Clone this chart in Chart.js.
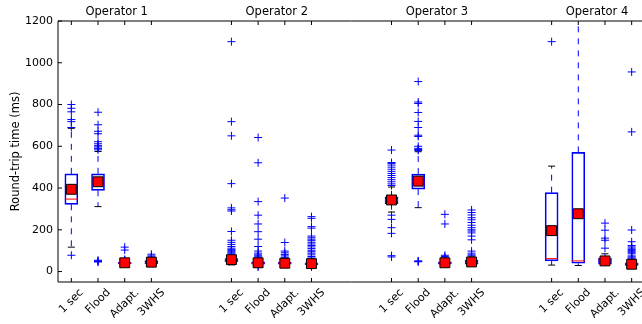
<!DOCTYPE html>
<html><head><meta charset="utf-8">
<script src="https://cdn.jsdelivr.net/npm/chart.js@4"></script>
<style>
html,body{margin:0;padding:0;overflow:hidden;background:#fff;width:642px;height:324px}
#wrap{width:646px;height:324px;position:relative}
canvas{display:block}
</style>
</head><body><div id="wrap"><canvas id="c" width="646" height="324"></canvas></div>
<script>
const operators = ["Operator 1", "Operator 2", "Operator 3", "Operator 4"];
const categories = ["1 sec", "Flood", "Adapt.", "3WHS"];
const positions = [1, 2, 3, 4, 7, 8, 9, 10, 13, 14, 15, 16, 19, 20, 21, 22];
const yTicks = [0, 200, 400, 600, 800, 1000, 1200];
const yLabel = "Round-trip time (ms)";

const whiskerLow  = [117, 311, 33, 33,  32, 28, 30, 28,  285, 306, 33, 33,  31, 29, 32, 27];
const q1          = [322, 389, 37, 37,  47, 35, 35, 33,  325, 395, 35, 35,  51, 40, 35, 30];
const median      = [347, 426, 40, 42,  52, 40, 40, 37,  343, 429, 42, 43,  62, 51, 56, 37];
const q3          = [468, 468, 44, 52,  62, 47, 46, 42,  358, 467, 47, 55,  378, 571, 64, 42];
const whiskerHigh = [686, 575, 50, 65,  75, 58, 55, 50,  405, 574, 52, 70,  505, 1400, 85, 50];
const means       = [394, 430, 42, 45,  57, 42, 40, 38,  343, 433, 42, 46,  196, 277, 51, 35];
const outliers = [
  [800, 782, 765, 728, 718, 690, 78],
  [763, 703, 672, 660, 622, 612, 603, 597, 590, 583, 54, 51, 48, 46],
  [117, 103, 58, 55, 53],
  [83, 75, 70],
  [1101, 718, 650, 421, 305, 296, 290, 192, 150, 140, 130, 120, 112, 105, 100, 95, 90, 85, 80],
  [642, 521, 335, 270, 228, 191, 155, 120, 98, 88, 80, 75, 70, 65, 62, 60, 25, 22],
  [352, 139, 98, 90, 82, 75, 68, 62, 58],
  [263, 255, 215, 208, 170, 162, 155, 148, 140, 132, 125, 118, 110, 102, 95, 88, 80, 72, 65, 58, 52, 25, 22],
  [582, 522, 518, 510, 500, 490, 480, 470, 460, 450, 440, 430, 420, 412, 270, 250, 210, 183, 76, 70],
  [910, 812, 805, 762, 719, 690, 653, 647, 600, 590, 585, 580, 51, 49, 47],
  [274, 228, 78, 72, 65, 60, 56],
  [295, 283, 271, 258, 248, 235, 222, 210, 200, 194, 185, 170, 152, 98, 88, 80, 75],
  [1101],
  [],
  [232, 198, 160, 150, 112],
  [956, 669, 199, 143, 125, 118, 112, 105, 100, 95, 90, 85, 75, 70, 65, 60, 55]
];

const boxData = positions.map((p, i) => ({x: p, y: [q1[i], q3[i]]}));
const whiskerData = positions.flatMap((p, i) => [
  {x: p, y: q3[i]}, {x: p, y: whiskerHigh[i]}, {x: p, y: null},
  {x: p, y: q1[i]}, {x: p, y: whiskerLow[i]}, {x: p, y: null}
]);
const capData = positions.flatMap((p, i) => [{x: p, y: whiskerLow[i]}, {x: p, y: whiskerHigh[i]}]);
const medianData = positions.map((p, i) => ({x: p, y: median[i]}));
const meanData = positions.map((p, i) => ({x: p, y: means[i]}));
const outlierData = positions.flatMap((p, i) => outliers[i].map(v => ({x: p, y: v})));

const FONT = '"DejaVu Sans", "Liberation Sans", sans-serif';
Chart.defaults.font.family = FONT;
Chart.defaults.font.size = 11;
Chart.defaults.color = '#000';

const decor = {
  id: 'decor',
  afterDraw(chart) {
    const {ctx, chartArea: a, scales: {x, y}} = chart;
    ctx.save();
    ctx.strokeStyle = '#000';
    ctx.lineWidth = 1;
    ctx.beginPath();
    ctx.moveTo(a.left, a.top); ctx.lineTo(a.right, a.top);
    ctx.moveTo(a.left, a.bottom); ctx.lineTo(a.right, a.bottom);
    ctx.moveTo(a.left, a.top); ctx.lineTo(a.left, a.bottom);
    ctx.moveTo(a.right, a.top); ctx.lineTo(a.right, a.bottom);
    yTicks.forEach(v => {
      const py = y.getPixelForValue(v);
      ctx.moveTo(a.left, py); ctx.lineTo(a.left + 4, py);
    });
    positions.forEach(p => {
      const px = x.getPixelForValue(p);
      ctx.moveTo(px, a.bottom); ctx.lineTo(px, a.bottom - 4);
      ctx.moveTo(px, a.top); ctx.lineTo(px, a.top + 4);
    });
    ctx.stroke();

    ctx.fillStyle = '#000';
    ctx.font = '11px ' + FONT;
    ctx.textAlign = 'center';
    ctx.textBaseline = 'middle';
    positions.forEach((p, i) => {
      const label = categories[i % categories.length];
      const w = ctx.measureText(label).width, h = 11;
      const half = (w + h) / (2 * Math.SQRT2);
      const cx = x.getPixelForValue(p), cy = a.bottom + 5 + half;
      ctx.save();
      ctx.translate(cx, cy);
      ctx.rotate(-Math.PI / 4);
      ctx.fillText(label, 0, 0);
      ctx.restore();
    });

    ctx.font = '11.5px ' + FONT;
    operators.forEach((op, g) => {
      const grp = positions.slice(g * 4, g * 4 + 4);
      const c = grp.reduce((s, v) => s + v, 0) / grp.length + 0.2;
      ctx.fillText(op, x.getPixelForValue(c), 12.5);
    });

    ctx.save();
    ctx.translate(16, (a.top + a.bottom) / 2);
    ctx.rotate(-Math.PI / 2);
    ctx.fillText(yLabel, 0, 0);
    ctx.restore();
    ctx.restore();
  }
};

new Chart(document.getElementById('c'), {
  type: 'scatter',
  data: {
    datasets: [
      {type: 'bar', data: boxData, order: 6, backgroundColor: 'rgba(255,255,255,0)',
       borderColor: '#0000ff', borderWidth: 1, borderSkipped: false, barThickness: 13},
      {type: 'line', data: whiskerData, order: 5, borderColor: '#0000ff', borderWidth: 1,
       borderDash: [6, 6], pointRadius: 0, spanGaps: false, fill: false},
      {type: 'scatter', data: capData, order: 4, pointStyle: 'line', pointRadius: 3.5,
       borderColor: '#000', borderWidth: 1},
      {type: 'scatter', data: medianData, order: 3, pointStyle: 'line', pointRadius: 6.5,
       borderColor: '#ff0000', borderWidth: 1},
      {type: 'scatter', data: outlierData, order: 2, pointStyle: 'cross', pointRadius: 4,
       borderColor: '#0000ff', borderWidth: 1},
      {type: 'scatter', data: meanData, order: 1, pointStyle: 'rect', pointRadius: 7,
       backgroundColor: '#ff0000', borderColor: '#000', borderWidth: 1}
    ]
  },
  options: {
    responsive: false,
    animation: false,
    devicePixelRatio: 1,
    layout: {autoPadding: false, padding: {top: 21, right: 1, left: 0, bottom: 0}},
    plugins: {legend: {display: false}, tooltip: {enabled: false}},
    scales: {
      x: {
        type: 'linear', min: 0.5, max: 22.5, offset: false,
        grid: {display: false, drawTicks: false, offset: false},
        border: {display: false},
        ticks: {display: false},
        afterFit: s => { s.height = 42; }
      },
      y: {
        type: 'linear', min: -50, max: 1200,
        grid: {display: false, drawTicks: false},
        border: {display: false},
        ticks: {padding: 5, font: {size: 11}, callback: v => String(v)},
        afterBuildTicks: s => { s.ticks = yTicks.map(v => ({value: v})); },
        afterFit: s => { s.width = 58; }
      }
    }
  },
  plugins: [decor]
});
</script>
</body></html>
